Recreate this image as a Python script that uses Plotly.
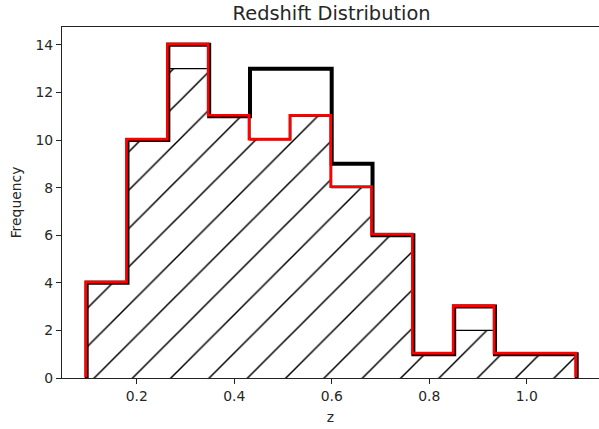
import numpy as np
import plotly.graph_objects as go

# ---- data ----
z_min = 0.0974
z_max = 1.1026
n_bins = 12
counts_hatched = [4, 10, 13, 11, 10, 11, 8, 6, 1, 2, 1, 1]
counts_black = [4, 10, 14, 11, 13, 13, 9, 6, 1, 3, 1, 1]
counts_red = [4, 10, 14, 11, 10, 11, 8, 6, 1, 3, 1, 1]
x_ticks = [0.2, 0.4, 0.6, 0.8, 1.0]
y_ticks = [0, 2, 4, 6, 8, 10, 12, 14]

edges = np.linspace(z_min, z_max, n_bins + 1)
centers = (edges[:-1] + edges[1:]) / 2
widths = np.diff(edges)


def step_xy(counts):
    xs = np.repeat(edges, 2)
    ys = np.concatenate([[0], np.repeat(counts, 2), [0]])
    return xs, ys


FONT = "DejaVu Sans"
TXT = "#262626"
x_range = [0.0468, 0.0468 + 537 / 487.5]
y_range = [0, 14.75]
px_x = 1 / 487.5
px_y = 1 / 23.8

fig = go.Figure()

fig.add_trace(go.Bar(
    x=centers, y=counts_hatched, width=widths,
    marker=dict(color="white", line=dict(width=0), opacity=1,
                pattern=dict(shape="/", fgcolor="#000000", fgopacity=1,
                             bgcolor="white", size=27.1, solidity=0.055)),
    hoverinfo="skip",
))

hx, hy = step_xy(counts_hatched)
fig.add_trace(go.Scatter(x=hx, y=hy, mode="lines",
                         line=dict(color="black", width=1.1), hoverinfo="skip"))

bx, by = step_xy(counts_black)
fig.add_trace(go.Scatter(x=bx, y=by, mode="lines",
                         line=dict(color="black", width=4), hoverinfo="skip"))

rx, ry = step_xy(counts_red)
fig.add_trace(go.Scatter(x=rx, y=ry, mode="lines", xaxis="x2", yaxis="y2",
                         line=dict(color="#ff0000", width=2.7), hoverinfo="skip"))

axis_common = dict(
    ticks="outside", ticklen=5, tickwidth=1.1, tickcolor="#222",
    showgrid=False, zeroline=False, showline=True, linecolor="#222", linewidth=1.1,
    tickfont=dict(family=FONT, size=13.9, color=TXT),
)

fig.update_layout(
    width=599, height=429,
    margin=dict(l=62, r=0, t=27, b=51),
    paper_bgcolor="white", plot_bgcolor="white",
    showlegend=False, bargap=0,
    title=dict(text="Redshift Distribution", x=331.6 / 599, xref="container",
               xanchor="center", y=1 - 13 / 429, yref="container", yanchor="middle",
               font=dict(family=FONT, size=19.4, color=TXT)),
    xaxis=dict(range=x_range, tickvals=x_ticks, tickformat=".1f", mirror=True,
               title=dict(text="z", font=dict(family=FONT, size=13.9, color=TXT),
                          standoff=9),
               **axis_common),
    yaxis=dict(range=y_range, tickvals=y_ticks, mirror=False,
               title=dict(text="Frequency", font=dict(family=FONT, size=13.9, color=TXT),
                          standoff=10),
               **axis_common),
    xaxis2=dict(range=[x_range[0] + px_x, x_range[1] + px_x], overlaying="x",
                visible=False, showgrid=False, zeroline=False),
    yaxis2=dict(range=[y_range[0] - px_y, y_range[1] - px_y], overlaying="y",
                visible=False, showgrid=False, zeroline=False),
)

fig.write_html("out.html")
